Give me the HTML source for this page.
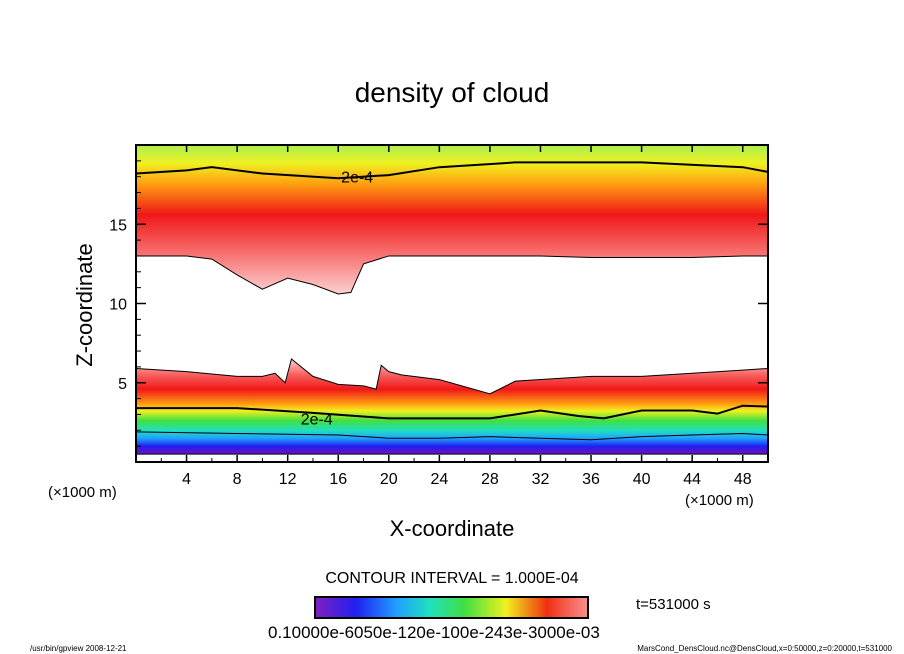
<!DOCTYPE html>
<html><head><meta charset="utf-8"><style>
body{margin:0;background:#fff;}
svg{display:block;font-family:"Liberation Sans",sans-serif;}
</style></head><body>
<svg id="chart" width="904" height="654" viewBox="0 0 904 654">
<defs>
<linearGradient id="gUp" gradientUnits="userSpaceOnUse" x1="0" y1="145" x2="0" y2="300">
<stop offset="0" stop-color="#a8f050"/><stop offset="0.12" stop-color="#f0f020"/><stop offset="0.25" stop-color="#ffa010"/><stop offset="0.45" stop-color="#f01818"/><stop offset="0.7" stop-color="#f87070"/><stop offset="1" stop-color="#fde0e0"/>
</linearGradient>
<linearGradient id="gLow" gradientUnits="userSpaceOnUse" x1="0" y1="360" x2="0" y2="458">
<stop offset="0" stop-color="#fcc8c8"/><stop offset="0.15" stop-color="#f86060"/><stop offset="0.3" stop-color="#f01818"/><stop offset="0.45" stop-color="#ffa010"/><stop offset="0.52" stop-color="#f0f020"/><stop offset="0.62" stop-color="#40e040"/><stop offset="0.72" stop-color="#20e0c0"/><stop offset="0.8" stop-color="#20a0ff"/><stop offset="0.88" stop-color="#2020f0"/><stop offset="0.96" stop-color="#7010c0"/><stop offset="1" stop-color="#8020c0"/>
</linearGradient>
<linearGradient id="gBar" x1="0" x2="1" y1="0" y2="0">
<stop offset="0" stop-color="#8020c0"/><stop offset="0.15" stop-color="#2020f0"/><stop offset="0.3" stop-color="#20a0ff"/><stop offset="0.42" stop-color="#20e0c0"/><stop offset="0.55" stop-color="#40e040"/><stop offset="0.7" stop-color="#f0f020"/><stop offset="0.85" stop-color="#f03010"/><stop offset="1" stop-color="#f89090"/>
</linearGradient>
<clipPath id="plotClip"><rect x="136" y="145" width="632" height="317"/></clipPath>
</defs>
<text x="452" y="102" text-anchor="middle" font-size="28">density of cloud</text>
<g id="plot" clip-path="url(#plotClip)"></g>
<rect x="136" y="145" width="632" height="317" fill="none" stroke="#000" stroke-width="2"/>
<g id="axes"></g>
<text transform="translate(92,305) rotate(-90)" text-anchor="middle" font-size="22">Z-coordinate</text>
<text x="452" y="536" text-anchor="middle" font-size="22">X-coordinate</text>
<text x="48" y="497" font-size="15">(×1000 m)</text>
<text x="685" y="505" font-size="15">(×1000 m)</text>
<text x="452" y="583" text-anchor="middle" font-size="16">CONTOUR INTERVAL = 1.000E-04</text>
<rect x="315" y="597" width="273" height="21" fill="url(#gBar)" stroke="#000" stroke-width="2"/>
<text x="636" y="609" font-size="15">t=531000 s</text>
<text x="268" y="638" font-size="17">0.10000e-6050e-120e-100e-243e-3000e-03</text>
<text x="30" y="651" font-size="8">/usr/bin/gpview  2008-12-21</text>
<text x="892" y="651" text-anchor="end" font-size="8">MarsCond_DensCloud.nc@DensCloud,x=0:50000,z=0:20000,t=531000</text>
</svg>
<script>
const upperX=[0,4,6,8,10,12,14,16,17,18,20,24,28,32,36,40,44,48,50];
const upperBottomZ=[13,13,12.8,11.8,10.9,11.6,11.2,10.6,10.7,12.5,13,13,13,13,12.9,12.9,12.9,13,13];
const upperContourX=[0,4,6,10,16,20,24,30,40,48,50];
const upperContourZ=[18.2,18.4,18.6,18.2,17.9,18.1,18.6,18.9,18.9,18.6,18.3];
const lowerX=[0,4,8,10,11,11.8,12.3,14,16,18,19,19.4,20,21,24,28,30,36,40,48,50];
const lowerTopZ=[5.9,5.7,5.4,5.4,5.6,5,6.5,5.4,4.9,4.8,4.6,6.1,5.7,5.5,5.2,4.3,5.1,5.4,5.4,5.8,5.9];
const lowerContourX=[0,8,12,14,20,28,32,35,37,40,44,46,48,50];
const lowerContourZ=[3.4,3.4,3.2,3.1,2.75,2.75,3.25,2.9,2.75,3.25,3.25,3.05,3.55,3.5];
const thinContourX=[0,8,12,16,20,24,28,32,36,40,44,48,50];
const thinContourZ=[1.9,1.8,1.75,1.7,1.5,1.5,1.6,1.5,1.4,1.6,1.7,1.8,1.7];
const xTicks=[4,8,12,16,20,24,28,32,36,40,44,48];
const zTicks=[5,10,15];
const NS="http://www.w3.org/2000/svg";
const sx=x=>136+x*632/50;
const sz=z=>462-z*317/20;
function el(t,a,p){const e=document.createElementNS(NS,t);for(const k in a)e.setAttribute(k,a[k]);p.appendChild(e);return e;}
const plot=document.getElementById('plot');
let d='M'+sx(0)+','+sz(20.5);
upperX.forEach((x,i)=>d+=' L'+sx(x)+','+sz(upperBottomZ[i]));
d+=' L'+sx(50)+','+sz(20.5)+' Z';
const up=el('path',{d:d,fill:'url(#gUp)',stroke:'#000','stroke-width':1},plot);


d='M'+sx(0)+','+sz(0.5);
lowerX.forEach((x,i)=>d+=' L'+sx(x)+','+sz(lowerTopZ[i]));
d+=' L'+sx(50)+','+sz(0.5)+' Z';
const lo=el('path',{d:d,fill:'url(#gLow)',stroke:'#000','stroke-width':1},plot);


function line(xs,zs,name,w){let p='';xs.forEach((x,i)=>p+=(i?' L':'M')+sx(x)+','+sz(zs[i]));
const l=el('path',{d:p,fill:'none',stroke:'#000','stroke-width':w},plot);

}
line(upperContourX,upperContourZ,'upper-contour-2e-4',2);
line(lowerContourX,lowerContourZ,'lower-contour-2e-4',2);
line(thinContourX,thinContourZ,'lower-contour-1e-4',1);
function lab(x,z,name){
const t=el('text',{x:sx(x),y:sz(z)+6,'text-anchor':'middle','font-size':16},plot);t.textContent='2e-4';

}
lab(17.5,18.0,'upper-contour-label');lab(14.3,2.75,'lower-contour-label');
const ax=document.getElementById('axes');
xTicks.forEach(v=>{el('line',{x1:sx(v),x2:sx(v),y1:462,y2:455,stroke:'#000','stroke-width':1.5},ax);
el('line',{x1:sx(v),x2:sx(v),y1:145,y2:152,stroke:'#000','stroke-width':1.5},ax);
const t=el('text',{x:sx(v),y:484,'text-anchor':'middle','font-size':16},ax);t.textContent=v;

});
for(let v=2;v<50;v+=2){if(v%4)el('line',{x1:sx(v),x2:sx(v),y1:462,y2:458,stroke:'#000'},ax);}
zTicks.forEach(v=>{el('line',{x1:136,x2:146,y1:sz(v),y2:sz(v),stroke:'#000','stroke-width':1.5},ax);
el('line',{x1:768,x2:758,y1:sz(v),y2:sz(v),stroke:'#000','stroke-width':1.5},ax);
const t=el('text',{x:127,y:sz(v)+6,'text-anchor':'end','font-size':16},ax);t.textContent=v;

});
for(let v=1;v<20;v++){if(v%5)el('line',{x1:136,x2:141,y1:sz(v),y2:sz(v),stroke:'#000'},ax);}
</script>
</body></html>
